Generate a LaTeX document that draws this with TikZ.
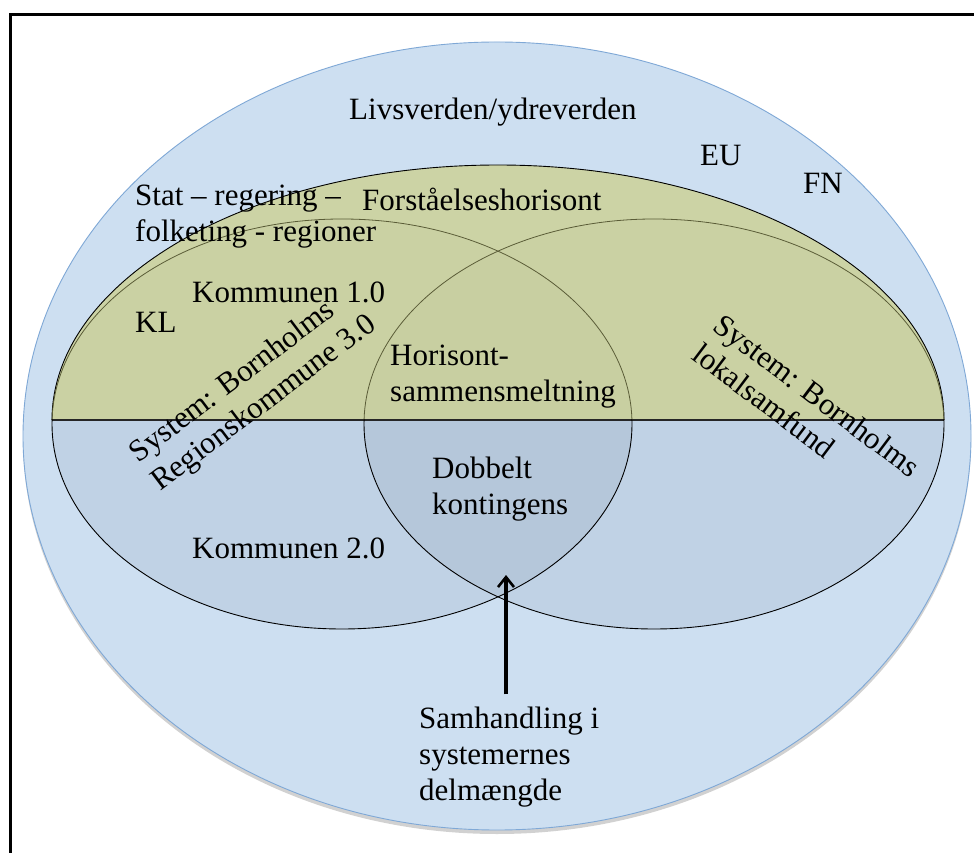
\documentclass[tikz,border=0pt]{standalone}
\usepackage{fontspec}
\setmainfont{Liberation Serif}
\usetikzlibrary{arrows.meta}
\definecolor{worldblue}{RGB}{205,223,241}
\definecolor{worldedge}{RGB}{127,168,214}
\definecolor{horizongreen}{RGB}{204,209,152}
\definecolor{systemtint}{RGB}{95,110,135}
\definecolor{upperline}{RGB}{90,92,55}
\begin{document}
\begin{tikzpicture}[x=1pt,y=1pt,
  lbl/.style={inner sep=0pt, font=\fontsize{31}{36}\selectfont, align=left},
  sysfill/.style={fill=systemtint, fill opacity=0.11},
  arrowline/.style={line width=3.2pt, -{Straight Barb[length=10pt,width=16pt,line width=2.6pt]}}]
\useasboundingbox (0,0) rectangle (974,852);
\clip (0,0) rectangle (974,852);
\fill[white] (0,0) rectangle (974,852);

% frame
\draw[line width=3pt] (10.5,-40) -- (10.5,837.5) -- (1020,837.5);

% outer world ellipse with a faint shadow
\fill[black, opacity=0.18] (497,412) ellipse [x radius=474, y radius=394];
\filldraw[fill=worldblue, draw=worldedge, line width=0.9pt] (497,416) ellipse [x radius=474, y radius=394];

% the two systems
\fill[sysfill] (342,428) ellipse [x radius=290, y radius=205];
\fill[sysfill] (654,428) ellipse [x radius=290, y radius=205];

% horizon of understanding (upper half ellipse)
\fill[horizongreen, fill opacity=0.85] (52,432) arc [start angle=180, end angle=0, x radius=446, y radius=255] -- cycle;
\draw[line width=0.9pt] (52,432) arc [start angle=180, end angle=0, x radius=446, y radius=255];
\draw[line width=1.1pt, black!85] (52,432) -- (944,432);

% system outlines
\begin{scope}
  \clip (0,432) rectangle (974,852);
  \draw[upperline, line width=0.8pt] (342,428) ellipse [x radius=290, y radius=205];
  \draw[upperline, line width=0.8pt] (654,428) ellipse [x radius=290, y radius=205];
\end{scope}
\begin{scope}
  \clip (0,0) rectangle (974,432);
  \draw[line width=0.9pt] (342,428) ellipse [x radius=290, y radius=205];
  \draw[line width=0.9pt] (654,428) ellipse [x radius=290, y radius=205];
\end{scope}

% labels (multi-line nodes are placed by the baseline of their last line)
\node[lbl, anchor=base west] (livs) at (349,732) {Livsverden/ydreverden};
\node[lbl, anchor=base west] (eu) at (700,686) {EU};
\node[lbl, anchor=base west] (fn) at (803,658) {FN};
\node[lbl, anchor=base west] (stat) at (135,610) {Stat -- regering --\\folketing - regioner};
\node[lbl, anchor=base west] (forst) at (362,641) {Forståelseshorisont};
\node[lbl, anchor=base west] (k1) at (192,549) {Kommunen 1.0};
\node[lbl, anchor=base west] (kl) at (135,519) {KL};
\node[lbl, anchor=base west] (hor) at (390,450) {Horisont-\\sammensmeltning};
\node[lbl, anchor=base west] (dob) at (432,337) {Dobbelt\\kontingens};
\node[lbl, anchor=base west] (k2) at (192,294) {Kommunen 2.0};
\node[lbl, anchor=base west, rotate=37] (sysreg) at (160,360) {System: Bornholms\\Regionskommune 3.0};
\node[lbl, anchor=base west, rotate=-37] (syslok) at (690,494) {System: Bornholms\\lokalsamfund};
\node[lbl, anchor=base west] (samh) at (419,52) {Samhandling i\\systemernes\\delmængde};

% arrow into the shared subset
\coordinate (tip) at (506,277);
\draw[arrowline] (samh.north -| tip) ++(0,12) -- (tip);
\end{tikzpicture}
\end{document}
